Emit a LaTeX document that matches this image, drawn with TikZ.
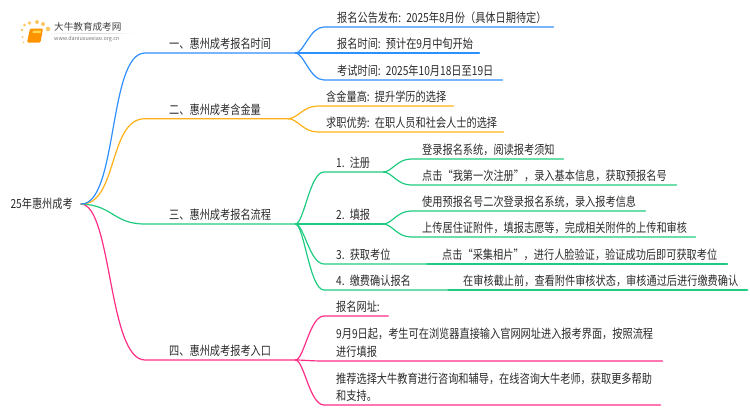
\documentclass[tikz,border=0pt]{standalone}
\usepackage{graphicx}
\usepackage{fontspec}
\setmainfont{Noto Sans CJK SC}
\usetikzlibrary{calc}
\definecolor{cblue}{HTML}{2E8FFF}
\definecolor{corange}{HTML}{FFB014}
\definecolor{cgreen}{HTML}{1FCB80}
\definecolor{cpink}{HTML}{FF2D85}
\definecolor{ctext}{HTML}{2A2A2A}
\definecolor{cdot}{HTML}{FBC766}
\tikzset{
  lab/.style={inner xsep=0pt,inner ysep=3pt,anchor=south west,align=left,text=ctext,font=\fontsize{12.5}{17.8}\selectfont},
  conn/.style={line width=1.2pt,line cap=round,line join=round},
  dotm/.style={circle,fill=cdot,inner sep=0pt}
}
\newcommand{\tx}[1]{\scalebox{.815}[1]{#1}}
% name, x0, y, x1, offset, text
\newcommand{\mmnode}[6]{%
  \pgfmathsetmacro\mmw{#4-#2}%
  \node[lab,text width=\mmw pt] (#1) at (#2,#3) {\hspace*{#5pt}\tx{#6}};%
}
\newcommand{\curve}[3]{% colour, from, to
  \draw[conn,#1] (#2.south east) .. controls ($(#2.south east)!.3!(#3.south west |- #2.south east)$) and ($(#2.south east |- #3.south west)!.5!(#3.south west)$) .. (#3.south west) -- (#3.south east);
}
\begin{document}
\begin{tikzpicture}[x=1pt,y=-1pt]
\useasboundingbox (0,0) rectangle (750,410);
% logo
\foreach \n/\a/\b/\r in {da/22/30/1.3,db/24.5/25/1.5,dc/29.5/23/1.8,dd/37/22/2,de/43/24/2,df/48/29/2.3,dg/22.5/37/1,dh/23.5/42.5/.8}{
  \node[dotm,minimum size=2*\r pt] (\n) at (\a,\b) {};
}
\fill[orange!85!yellow,rounded corners=1.2pt] (30,28.5) -- (43,28.5) -- (40.5,42.5) -- (27,42.5) -- cycle;
\fill[orange!45!yellow!70!white] (33,30.5) -- (41,30.5) -- (40.5,33) -- (32.5,33) -- cycle;
\node[inner sep=0pt,anchor=west,text=black!75,font=\fontsize{9.6}{10}\selectfont] (logot) at (54,27) {大牛教育成考网};
\shade[left color=white,right color=white,middle color=black!18] (46,33) rectangle (134,33.6);
\node[inner sep=0pt,anchor=west,text=black!55,font=\fontsize{5.4}{6}\selectfont] (logou) at (54,38.8) {www.daniuxuexiao.org.cn};
% root
\node[lab,anchor=east,inner xsep=8pt,inner ysep=0pt] (root) at (81,204) {\tx{25年惠州成考}};
% branches
\mmnode{bA}{145}{53}{295}{24}{一、惠州成考报名时间}
\mmnode{bB}{145}{118.7}{288}{24}{二、惠州成考含金量}
\mmnode{bC}{145}{224}{295}{24}{三、惠州成考报名流程}
\mmnode{bD}{145}{360}{295}{24}{四、惠州成考报考入口}
% leaves A
\mmnode{aA}{324}{27}{553}{13}{报名公告发布: 2025年8月份（具体日期待定）}
\mmnode{aB}{324}{53}{479}{13}{报名时间: 预计在9月中旬开始}
\mmnode{aC}{324}{80}{502}{13}{考试时间: 2025年10月18日至19日}
% leaves B
\mmnode{oA}{318}{106}{453}{8}{含金量高: 提升学历的选择}
\mmnode{oB}{318}{132}{503}{8}{求职优势: 在职人员和社会人士的选择}
% steps C
\mmnode{sA}{324}{172}{383}{12}{1. 注册}
\mmnode{sB}{324}{224}{383}{12}{2. 填报}
\mmnode{sC}{324}{264}{427}{12}{3. 获取考位}
\mmnode{sD}{324}{290}{448}{12}{4. 缴费确认报名}
\mmnode{tA}{411}{159}{563}{11}{登录报名系统，阅读报考须知}
\mmnode{tB}{411}{185}{676}{11}{点击“我第一次注册”，录入基本信息，获取预报名号}
\mmnode{tC}{411}{211}{645}{11}{使用预报名号二次登录报名系统，录入报考信息}
\mmnode{tD}{411}{237}{695}{11}{上传居住证附件，填报志愿等，完成相关附件的上传和审核}
\mmnode{tE}{427}{264}{727}{15}{点击“采集相片”，进行人脸验证，验证成功后即可获取考位}
\mmnode{tF}{448}{290}{747}{15}{在审核截止前，查看附件审核状态，审核通过后进行缴费确认}
% leaves D
\mmnode{pA}{324}{316}{388}{12}{报名网址:}
\node[lab,text width=338pt] (pB) at (324,361) {\hspace*{12pt}\tx{9月9日起，考生可在浏览器直接输入官网网址进入报考界面，按照流程}\\\hspace*{12pt}\tx{进行填报}};
\node[lab,text width=336pt] (pC) at (324,405) {\hspace*{12pt}\tx{推荐选择大牛教育进行咨询和辅导，在线咨询大牛老师，获取更多帮助}\\\hspace*{12pt}\tx{和支持。}};
% connectors
\draw[conn,cpink] (root.east) .. controls (112,205) and (108,360) .. (bD.south west) -- (bD.south east);
\draw[conn,cgreen] (root.east) .. controls (113,205) and (113,224) .. (bC.south west) -- (bC.south east);
\draw[conn,corange] (root.east) .. controls (118,205) and (108,118.7) .. (bB.south west) -- (bB.south east);
\draw[conn,cblue] (root.east) .. controls (118,205) and (108,53) .. (bA.south west) -- (bA.south east);
\curve{cblue}{bA}{aA}\curve{cblue}{bA}{aB}\curve{cblue}{bA}{aC}
\curve{corange}{bB}{oA}\curve{corange}{bB}{oB}
\curve{cgreen}{bC}{sA}\curve{cgreen}{bC}{sB}\curve{cgreen}{bC}{sC}\curve{cgreen}{bC}{sD}
\curve{cgreen}{sA}{tA}\curve{cgreen}{sA}{tB}\curve{cgreen}{sB}{tC}\curve{cgreen}{sB}{tD}
\draw[conn,cgreen] (sC.south east) -- (tE.south west) -- (tE.south east);
\draw[conn,cgreen] (sD.south east) -- (tF.south west) -- (tF.south east);
\curve{cpink}{bD}{pA}\curve{cpink}{bD}{pB}\curve{cpink}{bD}{pC}
\end{tikzpicture}
\end{document}
